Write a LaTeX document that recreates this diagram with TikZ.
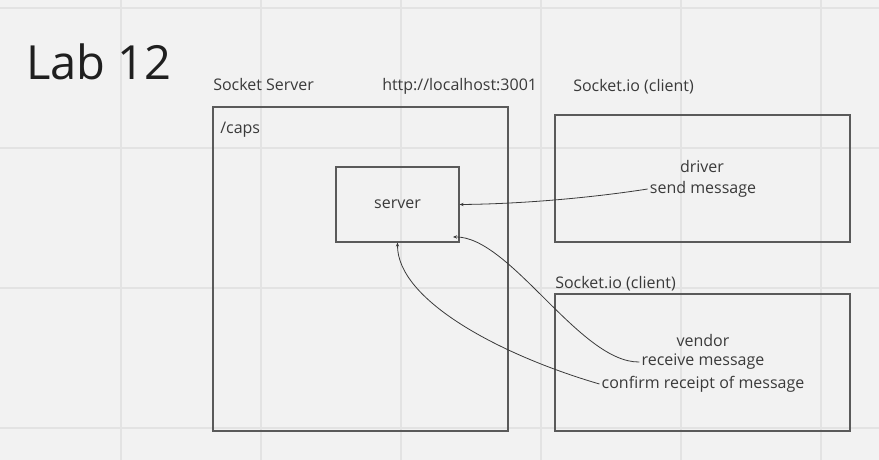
\documentclass[tikz,border=0pt]{standalone}
\usepackage{fontspec}
\setmainfont{Open Sans}
\usepackage{xcolor}
\usetikzlibrary{arrows.meta}

\definecolor{paper}{HTML}{F2F2F2}
\definecolor{gridline}{HTML}{E3E3E3}
\definecolor{ink}{HTML}{5A5A5A}
\definecolor{txt}{HTML}{3A3A3A}

\tikzset{
  frame/.style={draw=ink, line width=0.9pt},
  lbl/.style={text=txt, inner sep=1.5pt, font=\fontsize{12}{14}\selectfont},
  link/.style={draw=txt, line width=0.6pt, -{Stealth[length=3pt,width=2.5pt]}}
}

\begin{document}
\begin{tikzpicture}[x=0.75pt, y=-0.75pt]
    \useasboundingbox[fill=paper] (0,0) rectangle (879,460);

    % grid
    \foreach \gx in {121,261,...,821}
        \draw[gridline, line width=1.2pt] (\gx,0) -- (\gx,460);
    \foreach \gy in {8,148,288,428}
        \draw[gridline, line width=1.2pt] (0,\gy) -- (879,\gy);

    \node[anchor=base west, text=black!88, inner sep=0pt,
          font=\fontsize{35.3}{40}\selectfont] (title) at (26,80) {Lab 12};

    \coordinate (caps-nw) at (213,107);
    \coordinate (caps-se) at (508,431);
    \coordinate (drv-nw) at (555,115);
    \coordinate (drv-se) at (850,242);
    \coordinate (vnd-nw) at (555,294);
    \coordinate (vnd-se) at (850,431);

    \draw[frame] (caps-nw) rectangle (caps-se);
    \draw[frame] (drv-nw) rectangle (drv-se);
    \draw[frame] (vnd-nw) rectangle (vnd-se);

    \node[lbl, anchor=base west, inner sep=0pt] (srv-title) at (213,91) {Socket Server};
    \node[lbl, anchor=base west, inner sep=0pt] (srv-url) at (382,91) {http://localhost:3001};
    \node[lbl, anchor=base west, inner sep=0pt] (drv-title) at (573,92) {Socket.io (client)};
    \node[lbl, anchor=base west, inner sep=0pt] (vnd-title) at (555,288) {Socket.io (client)};
    \node[lbl, anchor=base west, inner sep=0pt] (caps) at (220,133) {/caps};

    \node[frame, lbl, minimum width=92.25pt, minimum height=56.25pt] (server) at (397.5,204.5) {server};
    \coordinate (srv-in) at (453,237);

    \node[lbl] (drv-name) at (702,166) {driver};
    \node[lbl] (drv-send) at (703,189) {send message};
    \node[lbl] (vnd-name) at (703,340) {vendor};
    \node[lbl] (vnd-recv) at (703,362) {receive message};
    \node[lbl] (vnd-conf) at (703,384) {confirm receipt of message};

    \draw[link] (drv-send.west) .. controls (590,198) and (520,204) .. (server.east);
    \draw[link] (vnd-recv.west) .. controls (580,363) and (510,236) .. (srv-in);
    \draw[link] (vnd-conf.west) .. controls (500,355) and (397,300) .. (server.south);
\end{tikzpicture}
\end{document}
